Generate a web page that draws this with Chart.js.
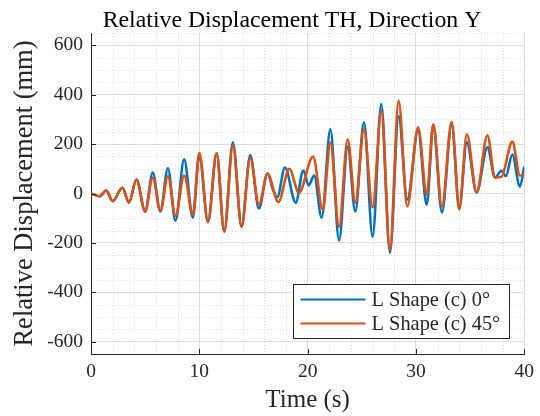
<!doctype html>
<html lang="en">

<head>
    <meta charset="utf-8">
    <title>Relative Displacement TH, Direction Y</title>
    <style>
        html, body { margin: 0; padding: 0; background: #fff; }
        #wrap { width: 540px; height: 416px; }
    </style>
</head>

<body>
    <div id="wrap"><canvas id="disp-chart" width="540" height="416"></canvas></div>

    <script src="https://cdn.jsdelivr.net/npm/chart.js"></script>
    <script>
        // peaks and troughs of each record, time in s, displacement in mm
        const time0 = [0, 0.8, 1.4, 2.0, 2.9, 3.5, 4.2, 5.0, 5.7, 6.4, 7.1, 7.8, 8.6, 9.4, 10.0, 10.8, 11.6, 12.3, 13.1, 13.9,
            14.7, 15.5, 16.3, 16.8, 17.2, 17.9, 18.9, 19.6, 20.1, 20.6, 21.3, 22.1, 22.9, 23.7, 24.4, 25.2, 26.0, 26.8, 27.6, 28.4,
            29.2, 30.2, 31.0, 31.6, 32.4, 33.3, 34.0, 34.7, 35.6, 36.6, 37.3, 37.9, 38.3, 38.9, 39.6, 40];
        const disp0 = [0, -11, 12, -31, 23, -36, 57, -73, 85, -73, 102, -110, 138, -98, 155, -115, 163, -155, 207, -135,
            155, -61, 82, 15, -15, 105, -37, 93, 33, 73, -98, 260, -190, 190, -73, 288, -175, 362, -240, 313,
            -25, 255, -45, 277, -77, 280, -55, 207, 4, 187, 65, 92, 70, 158, 28, 108];

        const time45 = [0, 0.8, 1.4, 2.0, 2.9, 3.5, 4.2, 5.0, 5.7, 6.4, 7.1, 7.8, 8.6, 9.4, 10.0, 10.8, 11.6, 12.3, 13.1, 13.9,
            14.7, 15.5, 16.3, 17.3, 18.3, 19.2, 20.5, 21.4, 22.1, 22.9, 23.7, 24.4, 25.2, 26.0, 26.8, 27.6, 28.4, 29.2, 30.2, 31.0,
            31.6, 32.4, 33.3, 34.0, 34.7, 35.6, 36.6, 37.3, 37.9, 38.9, 39.6, 40];
        const disp45 = [0, -11, 12, -31, 23, -36, 57, -73, 65, -70, 70, -90, 73, -85, 165, -115, 163, -155, 195, -133,
            145, -45, 80, -35, 100, 3, 150, -65, 207, -135, 220, -37, 260, -57, 334, -230, 375, -52, 268, -5,
            280, -52, 290, -65, 240, 4, 236, 65, 68, 210, 73, 75];

        const seriesNames = ['L Shape (c) 0°', 'L Shape (c) 45°'];
        const xTicks = [0, 10, 20, 30, 40];
        const yTicks = [-600, -400, -200, 0, 200, 400, 600];
        const chartTitle = 'Relative Displacement TH, Direction Y';

        const FONT = '"Liberation Serif", "Times New Roman", serif';
        const AXIS = '#262626';
        const blue = '#0072BD';
        const orange = '#D95319';

        const toPoints = (ts, vs) => ts.map((t, i) => ({ x: t, y: vs[i] }));

        // dotted minor grid, inward tick marks, title and the boxed legend
        const matlabLook = {
            id: 'matlabLook',
            beforeDatasetsDraw(chart) {
                const { ctx, chartArea: a, scales: { x, y } } = chart;
                ctx.save();
                ctx.strokeStyle = 'rgba(38,38,38,0.16)';
                ctx.lineWidth = 1;
                ctx.setLineDash([1, 2]);
                for (let t = 0; t <= 40; t += 2) {
                    if (t % 10 === 0 && t > 0) continue;
                    const px = Math.round(x.getPixelForValue(t)) + 0.5;
                    ctx.beginPath(); ctx.moveTo(px, a.top); ctx.lineTo(px, a.bottom); ctx.stroke();
                }
                for (let v = -650; v <= 650; v += 50) {
                    if (v % 200 === 0) continue;
                    const py = Math.round(y.getPixelForValue(v)) + 0.5;
                    ctx.beginPath(); ctx.moveTo(a.left, py); ctx.lineTo(a.right, py); ctx.stroke();
                }
                ctx.restore();
            },
            afterDraw(chart) {
                const { ctx, chartArea: a, scales: { x, y } } = chart;
                ctx.save();
                ctx.strokeStyle = AXIS;
                ctx.lineWidth = 1;
                ctx.beginPath();
                xTicks.forEach(t => {
                    const px = Math.round(x.getPixelForValue(t)) + 0.5;
                    ctx.moveTo(px, a.bottom); ctx.lineTo(px, a.bottom - 5);
                });
                yTicks.forEach(v => {
                    const py = Math.round(y.getPixelForValue(v)) + 0.5;
                    ctx.moveTo(a.left, py); ctx.lineTo(a.left + 5, py);
                });
                ctx.stroke();

                ctx.fillStyle = '#000';
                ctx.font = '23.8px ' + FONT;
                ctx.textAlign = 'center';
                ctx.textBaseline = 'alphabetic';
                ctx.fillText(chartTitle, 292, 27);

                // legend box, bottom right inside the axes
                const bx = 293.5, by = 284.5, bw = 216, bh = 54;
                ctx.fillStyle = '#fff';
                ctx.fillRect(bx, by, bw, bh);
                ctx.strokeStyle = AXIS;
                ctx.strokeRect(bx, by, bw, bh);
                ctx.font = '20.4px ' + FONT;
                ctx.textBaseline = 'middle';
                ctx.textAlign = 'left';
                chart.data.datasets.forEach((ds, i) => {
                    const ly = by + 15 + i * 24;
                    ctx.strokeStyle = ds.borderColor;
                    ctx.lineWidth = 2;
                    ctx.beginPath(); ctx.moveTo(bx + 7, ly); ctx.lineTo(bx + 72, ly); ctx.stroke();
                    ctx.fillStyle = AXIS;
                    ctx.fillText(ds.label, bx + 78, ly + 1);
                });
                ctx.restore();
            }
        };

        new Chart(document.getElementById('disp-chart'), {
            type: 'line',
            data: {
                datasets: [{
                    label: seriesNames[0],
                    data: toPoints(time0, disp0),
                    borderColor: blue,
                    borderWidth: 2.6,
                    pointRadius: 0,
                    cubicInterpolationMode: 'monotone',
                    tension: 0.4,
                    order: 2
                }, {
                    label: seriesNames[1],
                    data: toPoints(time45, disp45),
                    borderColor: orange,
                    borderWidth: 2.6,
                    pointRadius: 0,
                    cubicInterpolationMode: 'monotone',
                    tension: 0.4,
                    order: 1
                }]
            },
            options: {
                responsive: false,
                animation: false,
                layout: { padding: { left: 0, right: 15, top: 33, bottom: 0 } },
                plugins: {
                    legend: { display: false },
                    tooltip: { enabled: false },
                    title: { display: false }
                },
                scales: {
                    x: {
                        type: 'linear',
                        min: 0,
                        max: 40,
                        afterBuildTicks: s => { s.ticks = xTicks.map(v => ({ value: v })); },
                        afterFit: s => { s.height = 62; },
                        ticks: { color: AXIS, font: { family: FONT, size: 19.5 }, padding: 6, maxRotation: 0 },
                        grid: { color: 'rgba(38,38,38,0.15)', drawTicks: false },
                        border: { color: AXIS, width: 1 },
                        title: {
                            display: true,
                            text: 'Time (s)',
                            color: AXIS,
                            font: { family: FONT, size: 25 },
                            padding: { top: 0, bottom: 1 }
                        }
                    },
                    y: {
                        min: -650,
                        max: 650,
                        afterBuildTicks: s => { s.ticks = yTicks.map(v => ({ value: v })); },
                        afterFit: s => { s.width = 91; },
                        ticks: { color: AXIS, font: { family: FONT, size: 19.5 }, padding: 8 },
                        grid: { color: 'rgba(38,38,38,0.15)', drawTicks: false },
                        border: { color: AXIS, width: 1 },
                        title: {
                            display: true,
                            text: 'Relative Displacement (mm)',
                            color: AXIS,
                            font: { family: FONT, size: 26.5 },
                            padding: { top: 9, bottom: 0 }
                        }
                    }
                }
            },
            plugins: [matlabLook]
        });
    </script>
</body>

</html>
